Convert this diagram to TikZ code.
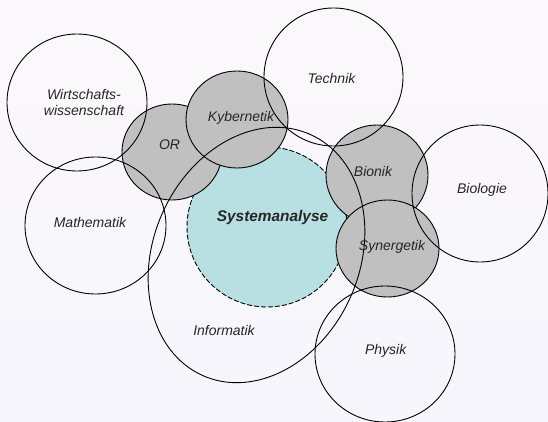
\documentclass[tikz,border=0pt]{standalone}
\usepackage{fontspec}
\setmainfont{Liberation Sans}
\usetikzlibrary{shapes.geometric}
\definecolor{bgtop}{RGB}{251,248,251}
\definecolor{bgbot}{RGB}{246,246,252}
\definecolor{grayfill}{RGB}{192,192,192}
\definecolor{tealfill}{RGB}{184,224,227}
\tikzset{
  ring/.style={ellipse, draw=black, line width=0.9pt, inner sep=0pt},
  grayring/.style={ring, fill=grayfill},
  lbl/.style={font=\fontsize{14}{16}\selectfont\itshape, inner sep=0pt, align=center, text=black!85},
}
\begin{document}
\begin{tikzpicture}[x=1pt,y=-1pt]
\useasboundingbox (0,0) rectangle (548,422);
\shade[top color=bgtop, bottom color=bgbot] (0,0) rectangle (548,422);
% Systemanalyse
\node[ellipse, fill=tealfill, draw=black, line width=0.9pt, dash pattern=on 5pt off 2pt,
  minimum width=160pt, minimum height=160pt, inner sep=0pt] (sa) at (267,227) {};
% gray circles
\node[grayring, minimum width=100pt, minimum height=96pt] (or) at (172,152) {};
\node[grayring, minimum width=102pt, minimum height=97pt] (ky) at (237,119.5) {};
\node[grayring, minimum width=102pt, minimum height=100pt] (bi) at (377,175) {};
\node[grayring, minimum width=103pt, minimum height=97pt] (sy) at (387.5,248.5) {};
% white circles
\node[ring, minimum width=140pt, minimum height=137pt] (ws) at (77,102.5) {};
\node[ring, minimum width=139pt, minimum height=138pt] (te) at (333.5,77) {};
\node[ring, minimum width=141pt, minimum height=137pt] (ma) at (95.5,225.5) {};
\node[ring, minimum width=136pt, minimum height=137pt] (bl) at (480,193.5) {};
\node[ring, minimum width=140pt, minimum height=136pt] (ph) at (385,354) {};
% Informatik ellipse
\node[ring, minimum width=264pt, minimum height=206pt, rotate=66] (in) at (256.5,255) {};
% labels
\node[lbl] (tws) at (84,102) {Wirtschafts-\\wissenschaft};
\node[lbl] (tte) at (331.5,78) {Technik};
\node[lbl] (tor) at (169.5,145) {OR};
\node[lbl] (tky) at (241,118) {Kybernetik};
\node[lbl] (tma) at (90,222) {Mathematik};
\node[lbl, font=\fontsize{15.4}{17}\selectfont\bfseries\itshape] (tsa) at (272.5,217.7) {Systemanalyse};
\node[lbl] (tbi) at (373,171.7) {Bionik};
\node[lbl] (tsy) at (392,247) {Synergetik};
\node[lbl] (tbl) at (482,190) {Biologie};
\node[lbl] (tph) at (385.7,350.7) {Physik};
\node[lbl] (tin) at (224,330) {Informatik};
\end{tikzpicture}
\end{document}
